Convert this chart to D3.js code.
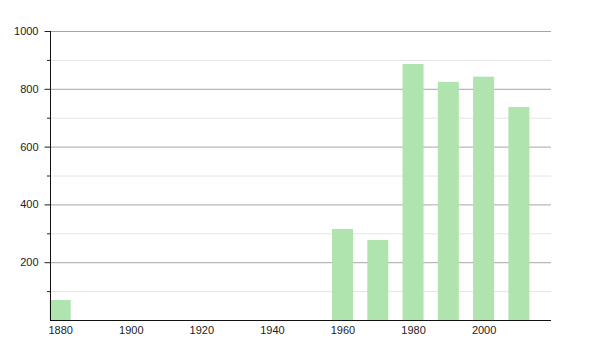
<!DOCTYPE html>
<html>
<head>
<meta charset="utf-8">
<script src="https://cdn.jsdelivr.net/npm/d3@7"></script>
<style>
  body { margin: 0; background: #fff; }
  text { font-family: "Liberation Sans", Arial, sans-serif; }
</style>
</head>
<body>
<div id="chart"></div>
<script>
// population by census year
var years = [1880, 1960, 1970, 1980, 1990, 2000, 2010];
var values = [69, 315, 277, 886, 824, 842, 737];
var xTicks = [1880, 1900, 1920, 1940, 1960, 1980, 2000];
var yMajor = [200, 400, 600, 800, 1000];
var yMinor = [100, 300, 500, 700, 900];

var width = 600, height = 350;
// note: "top" is taken by window.top, so plot edges get their own names
var plotL = 50, plotR = 551, plotT = 31, plotB = 320;

var svg = d3.select("#chart")
  .append("svg")
    .attr("width", width)
    .attr("height", height);

var x = d3.scaleLinear()
  .domain([1877.1, 2019.1])
  .range([plotL, plotR]);

var y = d3.scaleLinear()
  .domain([0, 1000])
  .range([plotB, plotT]);

// gridlines, light ones first
svg.append("g")
  .selectAll("line")
  .data(yMinor)
  .join("line")
    .attr("x1", plotL).attr("x2", plotR)
    .attr("y1", function(d) { return y(d) + 0.5; })
    .attr("y2", function(d) { return y(d) + 0.5; })
    .attr("stroke", "#e4e4e4");

svg.append("g")
  .selectAll("line")
  .data(yMajor)
  .join("line")
    .attr("x1", plotL).attr("x2", plotR)
    .attr("y1", function(d) { return y(d) + 0.5; })
    .attr("y2", function(d) { return y(d) + 0.5; })
    .attr("stroke", "#a6a6a6");

// bars
var barW = 21;
svg.append("g")
  .selectAll("rect")
  .data(years)
  .join("rect")
    .attr("x", function(d) { return x(d) - barW / 2; })
    .attr("y", function(d, i) { return y(values[i]); })
    .attr("width", barW)
    .attr("height", function(d, i) { return y(0) - y(values[i]); })
    .attr("fill", "#afe4af");

// y axis
var yAxis = svg.append("g")
  .attr("transform", "translate(" + (plotL + 0.5) + ",0)")
  .call(d3.axisLeft(y).tickValues(yMajor).tickFormat(d3.format("d")).tickSize(6).tickPadding(6));
yAxis.select(".domain").remove();
yAxis.selectAll("line").attr("stroke", "#222");
yAxis.selectAll("text").attr("font-size", 11).attr("fill", "#222")
  .style("font-family", "'Liberation Sans', Arial, sans-serif");

svg.append("g")
  .selectAll("line")
  .data(yMinor)
  .join("line")
    .attr("x1", plotL - 3).attr("x2", plotL)
    .attr("y1", function(d) { return y(d) + 0.5; })
    .attr("y2", function(d) { return y(d) + 0.5; })
    .attr("stroke", "#222");

svg.append("line")
  .attr("x1", plotL + 0.5).attr("x2", plotL + 0.5)
  .attr("y1", plotT).attr("y2", plotB)
  .attr("stroke", "#111");

// x axis
var xAxis = svg.append("g")
  .attr("transform", "translate(0," + (plotB + 0.5) + ")")
  .call(d3.axisBottom(x).tickValues(xTicks).tickFormat(d3.format("d")).tickSize(0).tickPadding(6));
xAxis.select(".domain").remove();
xAxis.selectAll("text").attr("font-size", 11).attr("fill", "#222")
  .style("font-family", "'Liberation Sans', Arial, sans-serif");

svg.append("line")
  .attr("x1", plotL).attr("x2", plotR)
  .attr("y1", plotB + 0.5).attr("y2", plotB + 0.5)
  .attr("stroke", "#111");
</script>
</body>
</html>
